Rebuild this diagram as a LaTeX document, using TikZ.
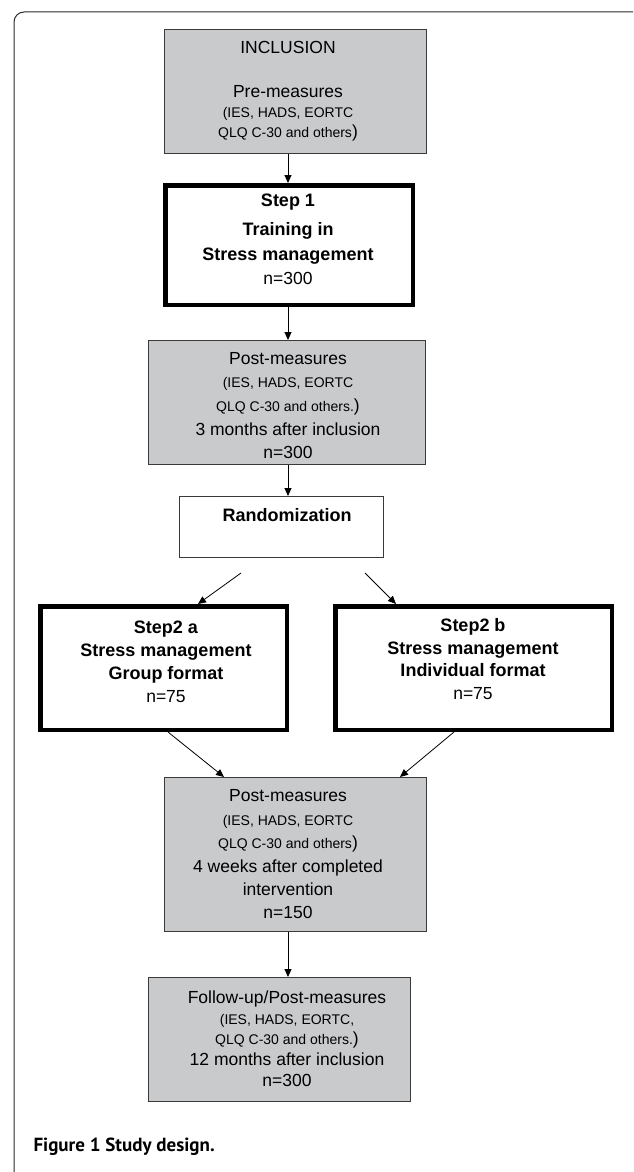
\documentclass[tikz,border=0pt]{standalone}
\usepackage{fontspec}
\setmainfont{Liberation Sans}
\newfontfamily\capfont{PT Sans}
\usepackage{xcolor}
\usetikzlibrary{arrows.meta, positioning}
\definecolor{BoxGray}{HTML}{C9CACC}
\definecolor{LineDark}{HTML}{3A3A3A}
\definecolor{FrameDark}{HTML}{2B2B2B}
\newcommand\notesz{\fontsize{14}{15}\selectfont}

\begin{document}
\begin{tikzpicture}[x=1pt, y=-1pt,
    every node/.style={font=\fontsize{17.5}{23}\selectfont, align=center},
    graybox/.style={draw=LineDark, line width=1pt, fill=BoxGray, inner sep=0pt},
    whitebox/.style={draw=LineDark, line width=1pt, fill=white, inner sep=0pt},
    stepbox/.style={draw=black, line width=4.5pt, fill=white, inner sep=0pt},
    arr/.style={-{Triangle[length=8pt,width=7pt]}, line width=0.9pt, draw=black}]
  \useasboundingbox (0,0) rectangle (633,1172);
  \fill[white] (0,0) rectangle (633,1172);

  % Figure frame
  \draw[FrameDark, line width=1pt, rounded corners=10pt] (633,12) -- (14,12) -- (14,1172);

  % Boxes
  \node[graybox, minimum width=262.5, minimum height=124] (incl) at (295.25,91.5) {};
  \node[stepbox, minimum width=247.5, minimum height=119.5] (step1) at (289,245) {};
  \node[graybox, minimum width=277, minimum height=124] (post1) at (287,402.5) {};
  \node[whitebox, minimum width=204, minimum height=61] (rand) at (281.5,527) {};
  \node[stepbox, minimum width=246.5, minimum height=123.5] (s2a) at (163.5,668) {};
  \node[stepbox, minimum width=276.5, minimum height=123.5] (s2b) at (473.5,668) {};
  \node[graybox, minimum width=262.5, minimum height=154] (post2) at (295.25,854.5) {};
  \node[graybox, minimum width=262, minimum height=124] (follow) at (279.5,1039.5) {};

  % Box texts
  \node[font=\fontsize{17.5}{20}\selectfont] (incltxt) at (288,91) {INCLUSION\\[24pt] Pre-measures\\ {\notesz (IES, HADS, EORTC}\\ {\notesz QLQ C-30 and others})};
  \node[font=\bfseries\fontsize{18}{24.5}\selectfont] (step1txt) at (288,239.5) {Step 1\\[5pt] Training in\\ Stress management\\ \mdseries\fontsize{17.5}{24.5}\selectfont n=300};
  \node[font=\fontsize{17.5}{23.7}\selectfont] (post1txt) at (288,405.5) {Post-measures\\ {\notesz (IES, HADS, EORTC}\\ {\notesz QLQ C-30 and others.})\\ 3 months after inclusion\\ n=300};
  \node[font=\bfseries\fontsize{18}{23}\selectfont] (randtxt) at (287,515) {Randomization};
  \node[font=\bfseries\fontsize{18}{23}\selectfont] (s2atxt) at (166,661.5) {Step2 a\\ Stress management\\ Group format\\ \mdseries\fontsize{17.5}{23}\selectfont n=75};
  \node[font=\bfseries\fontsize{18}{22.7}\selectfont] (s2btxt) at (473,659) {Step2 b\\ Stress management\\ Individual format\\ \mdseries\fontsize{17.5}{22.7}\selectfont n=75};
  \node[font=\fontsize{17.5}{23.4}\selectfont] (post2txt) at (288,854.5) {Post-measures\\ {\notesz (IES, HADS, EORTC}\\ {\notesz QLQ C-30 and others})\\ 4 weeks after completed\\ intervention\\ n=150};
  \node[font=\fontsize{17.5}{20.75}\selectfont] (followtxt) at (287,1038.5) {Follow-up/Post-measures\\ {\notesz (IES, HADS, EORTC,}\\ {\notesz QLQ C-30 and others.})\\ 12 months after inclusion\\ n=300};

  % Arrows
  \coordinate (spine) at (288,0);
  \foreach \a/\b in {incl/step1, step1/post1, post1/rand, post2/follow} {
    \draw[arr] (\a.south -| spine) -- (\b.north -| spine);
  }
  \coordinate (randL) at (241,573);
  \coordinate (randR) at (365,573);
  \coordinate (tipL) at (198,0);
  \coordinate (tipR) at (396,0);
  \draw[arr, line width=0.8pt] (randL) -- (s2a.north -| tipL);
  \draw[arr, line width=0.8pt] (randR) -- (s2b.north -| tipR);
  \coordinate (outL) at (168,0);
  \coordinate (outR) at (454,0);
  \coordinate (inL) at (224,0);
  \coordinate (inR) at (400,0);
  \draw[arr, line width=0.8pt] (s2a.south -| outL) -- (post2.north -| inL);
  \draw[arr, line width=0.8pt] (s2b.south -| outR) -- (post2.north -| inR);

  % Caption
  \node[anchor=west, font=\capfont\bfseries\fontsize{19}{22}\selectfont] (caption) at (30,1147) {Figure 1 Study design.};
\end{tikzpicture}
\end{document}
